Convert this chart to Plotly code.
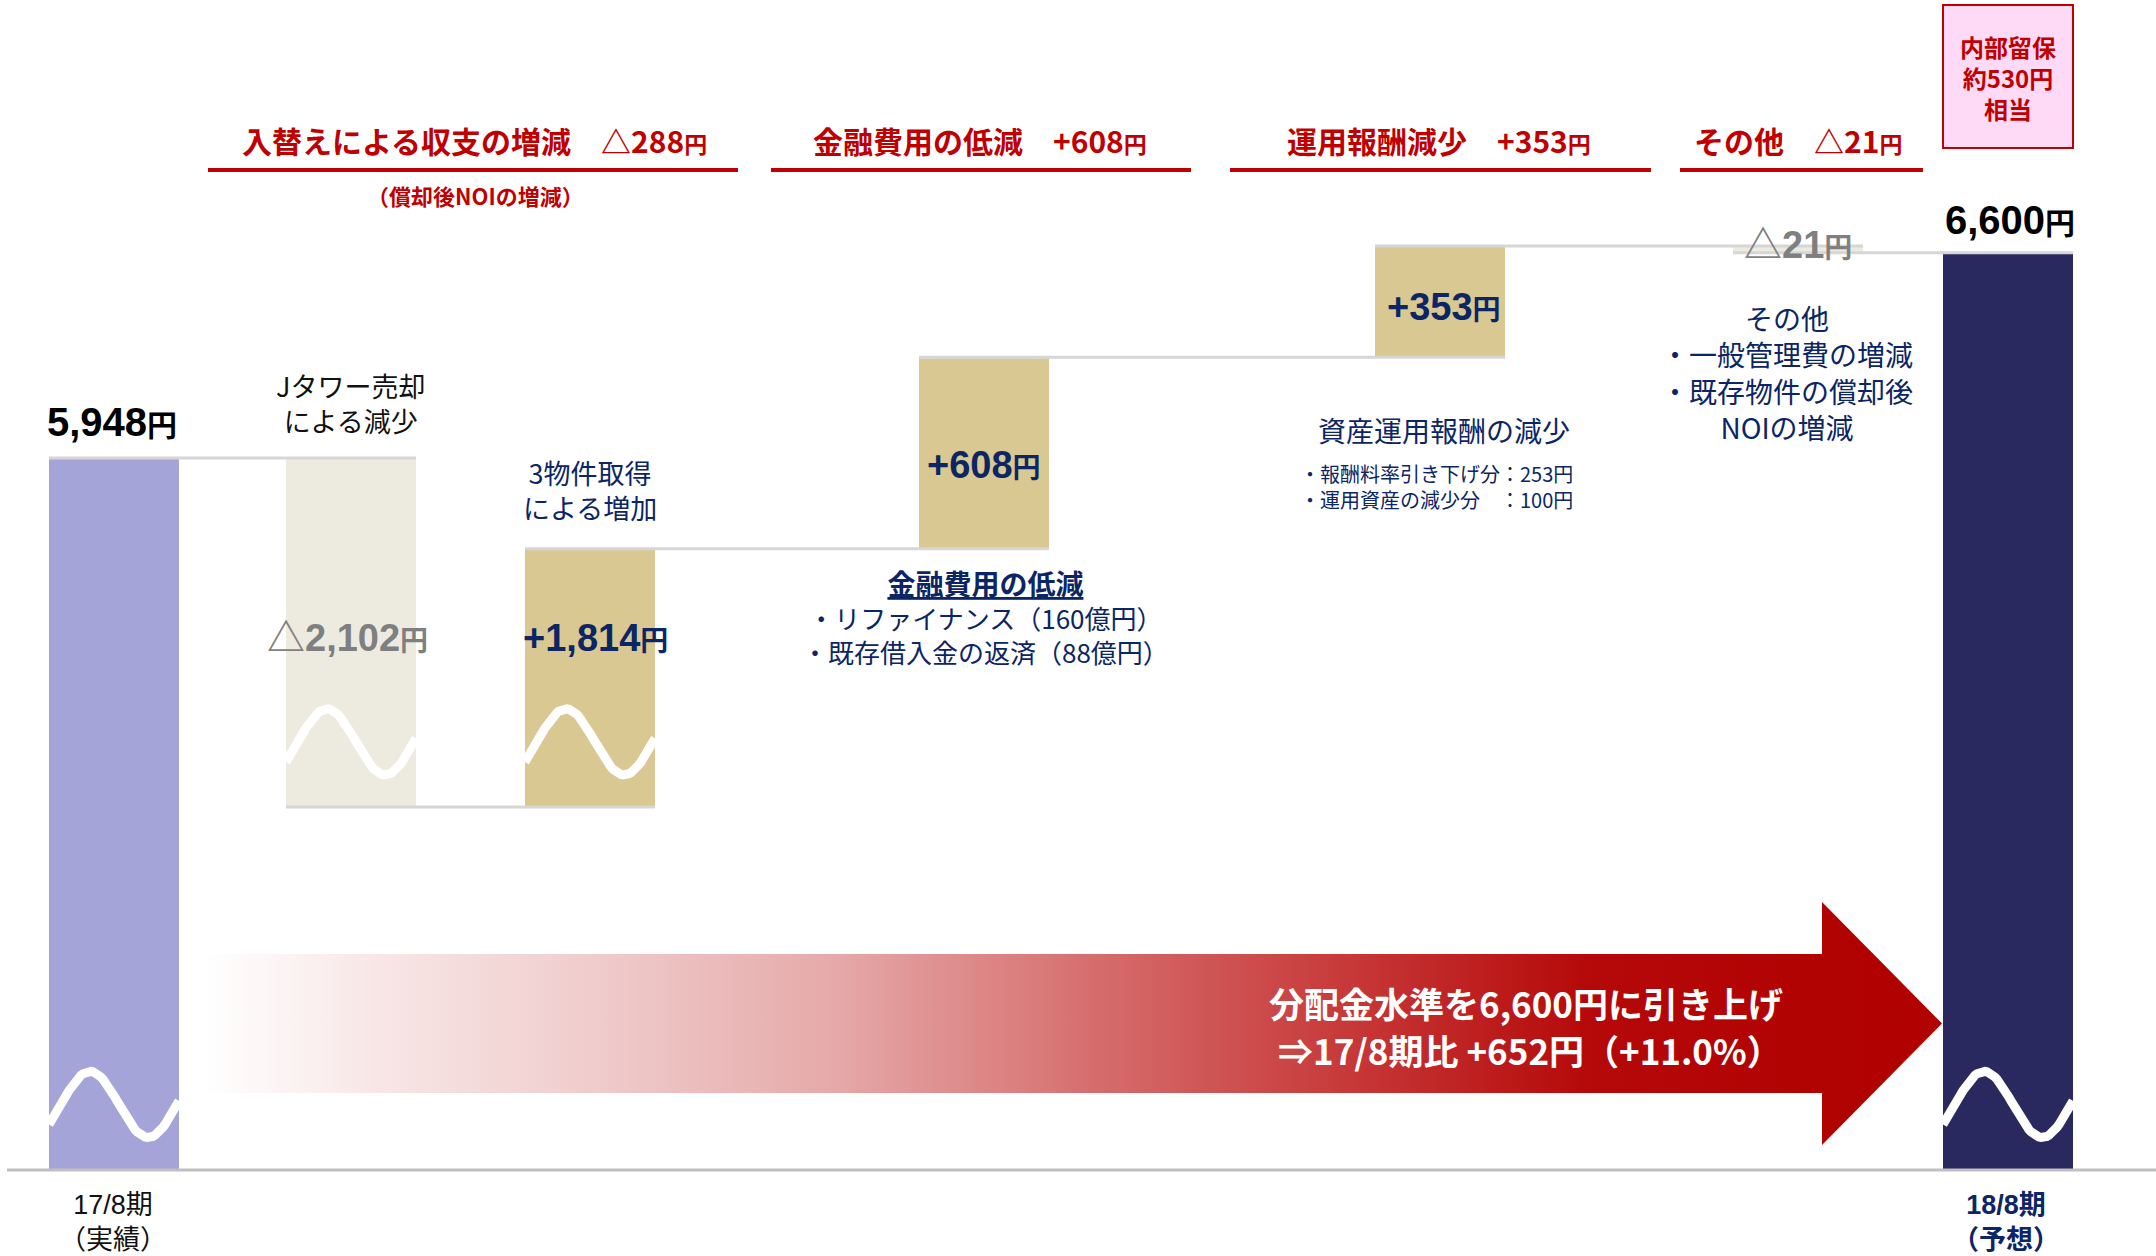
import math
import plotly.graph_objects as go

# ---------------- data ----------------
categories = ["17/8期", "Jタワー売却による減少", "3物件取得による増加",
              "金融費用の低減", "運用報酬減少", "その他", "18/8期"]
values = [5948, -2102, 1814, 608, 353, -21, 6600]
measures = ["absolute", "relative", "relative", "relative", "relative", "relative", "total"]
period_notes = ["（実績）", "（予想）"]

group_names = ["入替えによる収支の増減", "金融費用の低減", "運用報酬減少", "その他"]
group_members = [[1, 2], [3], [4], [5]]

finance_items = ["リファイナンス", "既存借入金の返済"]
finance_amounts = [160, 88]          # 億円
fee_items = ["報酬料率引き下げ分", "運用資産の減少分　"]
fee_values = [253, 100]              # 円
other_items = ["一般管理費の増減", "既存物件の償却後<br>NOIの増減"]
retained_per_unit = 530              # 円

# ---------------- layout / style ----------------
W, H = 2156, 1256
BASE_Y = 1170          # pixel row of the baseline
PXU = 0.315            # pixels per displayed yen
BAR_W = 130
bar_x = [114, 351, 590, 984, 1440, 1798, 2008]
bar_colors = ["#A4A4D8", "#EDEBE0", "#D9C891", "#D9C891", "#D9C891", "#EDEBE0", "#29295F"]
NAVY = "#0B2565"
RED = "#C00000"
GRAY = "#7F7F7F"
CJK = "Noto Sans CJK JP"
NUM = "Liberation Sans, Noto Sans CJK JP"

# broken value axis: (value from, value to, displayed span)
AXIS_BREAKS = [(0, 3110, 416), (3950, 5150, 206)]


def to_axis(v):
    out, cursor = 0.0, 0.0
    for lo, hi, span in AXIS_BREAKS:
        if v <= lo:
            return out + (v - cursor)
        out += lo - cursor
        if v <= hi:
            return out + (v - lo) * span / (hi - lo)
        out += span
        cursor = hi
    return out + (v - cursor)


def ypx(Y):
    """pixel row -> axis units (for decorations)"""
    return (BASE_Y - Y) / PXU


def fmt(v):
    return ("△" if v < 0 else "+") + f"{abs(v):,}"


def yen(num_text, size):
    return f"{num_text}<span style='font-size:{size}px'>円</span>"


# ---------------- waterfall geometry ----------------
bottoms, tops, levels = [], [], []
level = 0
for v, m in zip(values, measures):
    if m in ("absolute", "total"):
        b, t, level = 0, v, v
    else:
        new = level + v
        b, t, level = min(level, new), max(level, new), new
    bottoms.append(b)
    tops.append(t)
    levels.append(level)

fig = go.Figure()

# connectors
cx, cy = [], []
for i in range(len(values) - 1):
    yy = to_axis(levels[i])
    cx += [bar_x[i] - BAR_W / 2, bar_x[i + 1] + BAR_W / 2, None]
    cy += [yy, yy, None]

fig.add_trace(go.Bar(
    x=bar_x,
    y=[to_axis(t) - to_axis(b) for b, t in zip(bottoms, tops)],
    base=[to_axis(b) for b in bottoms],
    width=BAR_W,
    marker=dict(color=bar_colors, line=dict(width=0)),
    hovertext=categories, hoverinfo="text",
))
fig.add_trace(go.Scatter(x=cx, y=cy, mode="lines",
                         line=dict(color="#D6D6D6", width=3), hoverinfo="skip"))

# break squiggles (lowest break inside each broken bar)
for i in [0, 1, 2, 6]:
    for lo, hi, span in AXIS_BREAKS:
        if lo >= bottoms[i] and hi <= tops[i]:
            c = to_axis(lo) + span / 2
            left = bar_x[i] - BAR_W / 2
            xs = [left + k for k in range(0, BAR_W + 1, 2)]
            ys = [c + 105 * math.sin(2 * math.pi * (k - 12) / 116) for k in range(0, BAR_W + 1, 2)]
            fig.add_trace(go.Scatter(x=xs, y=ys, mode="lines",
                                     line=dict(color="white", width=9), hoverinfo="skip"))
            break

# big gradient arrow
ax = [203, 1822, 1822, 1942, 1822, 1822, 203, 203]
ay = [954, 954, 902, 1023.5, 1145, 1093, 1093, 954]
fig.add_trace(go.Scatter(
    x=ax, y=[ypx(v) for v in ay], mode="lines", fill="toself",
    line=dict(width=0, color="rgba(0,0,0,0)"),
    fillgradient=dict(type="horizontal", colorscale=[
        [0.0, "#FFFFFF"], [0.1, "#F8E6E6"], [0.22, "#F0CDCD"], [0.36, "#E6AAAA"],
        [0.52, "#D56A6A"], [0.66, "#C73838"], [0.8, "#B50808"], [1.0, "#B00000"]]),
    hoverinfo="skip"))

# ---------------- shapes ----------------
shapes = [dict(type="line", xref="x", yref="y", x0=7, x1=W, y0=0, y1=0,
               line=dict(color="#BFBFBF", width=3))]
underlines = [(208, 738), (771, 1191), (1230, 1651), (1680, 1923)]
for x0, x1 in underlines:
    shapes.append(dict(type="line", xref="paper", yref="paper", x0=x0 / W, x1=x1 / W,
                       y0=1 - 170 / H, y1=1 - 170 / H, line=dict(color=RED, width=4)))
shapes.append(dict(type="rect", xref="paper", yref="paper", x0=1943 / W, x1=2073 / W,
                   y0=1 - 148 / H, y1=1 - 5 / H, fillcolor="#FFDAF6",
                   line=dict(color=RED, width=2)))
fig.update_layout(shapes=shapes)


def note(text, X, Y, size, color, family=CJK, align="center", xanchor="center"):
    fig.add_annotation(x=X / W, y=1 - Y / H, xref="paper", yref="paper", text=text,
                       showarrow=False, align=align, xanchor=xanchor, yanchor="middle",
                       font=dict(size=size, color=color, family=family))


# group titles
group_values = [sum(values[j] for j in mem) for mem in group_members]
title_x = [474, 980, 1439, 1798]
for name, gv, X in zip(group_names, group_values, title_x):
    note(f"<b>{name}　{yen(fmt(gv), 23)}</b>", X, 140, 30, RED)
note("<b>（償却後NOIの増減）</b>", 475, 195, 22, RED)

# value labels
note(f"<b>{yen(f'{values[0]:,}', 30)}</b>", 112, 422, 40, "#000000", NUM)
note(f"<b>{yen(f'{values[6]:,}', 30)}</b>", 2010, 220, 40, "#000000", NUM)
label_pos = {1: (347, 638, GRAY), 2: (595, 638, NAVY), 3: (984, 465, NAVY),
             4: (1444, 307, NAVY), 5: (1798, 245, GRAY)}
for i, (X, Y, col) in label_pos.items():
    note(f"<b>{yen(fmt(values[i]), 28)}</b>", X, Y, 38, col, NUM)

# descriptive texts
note("Jタワー売却<br>による減少", 350, 403, 27, "#111111")
note("3物件取得<br>による増加", 590, 490, 27, NAVY)
fin_lines = [f"・{n}（{a}億円）" for n, a in zip(finance_items, finance_amounts)]
note("<b><u><span style='font-size:28px'>金融費用の低減</span></u></b><br>" + "<br>".join(fin_lines),
     985, 616, 26, NAVY)
note("資産運用報酬の減少", 1444, 430, 28, NAVY)
fee_lines = [f"・{n}：{v}円" for n, v in zip(fee_items, fee_values)]
note("<br>".join(fee_lines), 1298, 486, 20, NAVY, align="left", xanchor="left")
note("その他<br>" + "<br>".join("・" + t for t in other_items), 1787, 372, 28, NAVY)
note(f"<b>内部留保<br>約{retained_per_unit}円<br>相当</b>", 2008, 77, 24, RED)

# period labels
note(f"{categories[0]}<br>{period_notes[0]}", 113, 1222, 27, "#111111", NUM)
note(f"<b>{categories[6]}<br>{period_notes[1]}</b>", 2006, 1222, 27, NAVY, NUM)

# arrow message
diff = values[6] - values[0]
pct = diff / values[0] * 100
note(f"<b>分配金水準を{values[6]:,}円に引き上げ</b>", 1526, 1002, 35, "#FFFFFF")
note(f"<b>⇒{categories[0]}比 +{diff}円（+{pct:.1f}%）</b>", 1530, 1049, 35, "#FFFFFF")

fig.update_layout(
    width=W, height=H, autosize=False,
    margin=dict(l=0, r=0, t=0, b=0, pad=0),
    paper_bgcolor="white", plot_bgcolor="white",
    showlegend=False,
    xaxis=dict(range=[0, W], visible=False, fixedrange=True),
    yaxis=dict(range=[ypx(H), ypx(0)], visible=False, fixedrange=True),
    bargap=0,
)

fig.write_html("out.html")
